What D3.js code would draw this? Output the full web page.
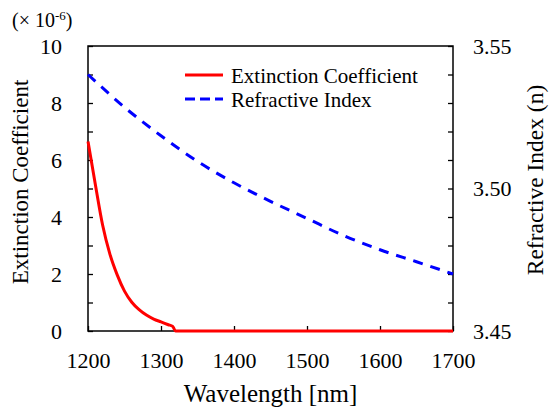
<!DOCTYPE html>
<html>
<head>
<meta charset="utf-8">
<script src="https://cdn.jsdelivr.net/npm/d3@7"></script>
<style>
  body { margin: 0; background: #fff; }
</style>
</head>
<body>
<div id="chart"></div>
<script>
// extinction coefficient (x 1e-6)
const kWave = [1200, 1210, 1220, 1230, 1240, 1250, 1260, 1270, 1280, 1290, 1300, 1310, 1316, 1320, 1700];
const kVals = [6.65, 5.15, 3.72, 2.70, 1.97, 1.40, 1.01, 0.75, 0.56, 0.42, 0.32, 0.22, 0.16, 0, 0];

// refractive index
const nWave = [1200, 1250, 1300, 1350, 1400, 1450, 1500, 1550, 1600, 1650, 1700];
const nVals = [3.540, 3.5285, 3.5185, 3.5095, 3.502, 3.4955, 3.4895, 3.4835, 3.4785, 3.4743, 3.470];

const xTicks = [1200, 1300, 1400, 1500, 1600, 1700];
const kTicks = d3.range(0, 11, 1);
const nTicks = d3.range(3.45, 3.5501, 0.01);

const seriesNames = ["Extinction Coefficient", "Refractive Index"];

const serif = "'Liberation Serif', 'DejaVu Serif', serif";

let margin = { top: 46, right: 99, bottom: 79, left: 88 };
let width = 552 - margin.left - margin.right,
    height = 410 - margin.top - margin.bottom;

let svg = d3.select("#chart").append("svg")
    .attr("width", 552)
    .attr("height", 410)
    .attr("font-family", serif);

let g = svg.append("g")
    .attr("transform", "translate(" + margin.left + "," + margin.top + ")");

// scales
let x = d3.scaleLinear().domain([1200, 1700]).range([0, width]);
let yK = d3.scaleLinear().domain([0, 10]).range([height, 0]);
let yN = d3.scaleLinear().domain([3.45, 3.55]).range([height, 0]);

// axes, ticks pointing inward
let xAxis = g.append("g")
    .attr("transform", "translate(0," + height + ")")
    .call(d3.axisBottom(x).tickValues(xTicks).tickSizeInner(-5).tickSizeOuter(0).tickPadding(21).tickFormat(d3.format("d")));

let yAxisL = g.append("g")
    .call(d3.axisLeft(yK).tickValues(kTicks).tickSizeInner(-5).tickSizeOuter(0).tickPadding(26)
        .tickFormat(d => d % 2 === 0 ? d : ""));

let yAxisR = g.append("g")
    .attr("transform", "translate(" + width + ",0)")
    .call(d3.axisRight(yN).tickValues(nTicks).tickSizeInner(-5).tickSizeOuter(0).tickPadding(20)
        .tickFormat((d, i) => i % 5 === 0 ? d3.format(".2f")(d) : ""));

[xAxis, yAxisL, yAxisR].forEach(a => {
    a.attr("font-family", serif).attr("font-size", 22);
    a.selectAll("text").attr("fill", "#000");
    a.selectAll("line").attr("stroke", "#000").attr("stroke-width", 1.3);
    a.select(".domain").remove();
});

// frame
g.append("rect")
    .attr("width", width)
    .attr("height", height)
    .attr("fill", "none")
    .attr("stroke", "#000")
    .attr("stroke-width", 1.5);

// lines
let kLine = d3.line()
    .curve(d3.curveMonotoneX)
    .x((d, i) => x(kWave[i]))
    .y(d => yK(d));

let nLine = d3.line()
    .curve(d3.curveMonotoneX)
    .x((d, i) => x(nWave[i]))
    .y(d => yN(d));

g.append("path")
    .datum(nVals)
    .attr("d", nLine)
    .attr("fill", "none")
    .attr("stroke", "#0000ff")
    .attr("stroke-width", 3)
    .attr("stroke-dasharray", "10,8");

g.append("path")
    .datum(kVals)
    .attr("d", kLine)
    .attr("fill", "none")
    .attr("stroke", "#ff0000")
    .attr("stroke-width", 3);

// legend
let legend = svg.append("g");
let legendColors = ["#ff0000", "#0000ff"];
let legendDash = [null, "10,5"];
seriesNames.forEach((name, i) => {
    let yy = 75 + i * 24;
    legend.append("line")
        .attr("x1", 185).attr("x2", 223)
        .attr("y1", yy).attr("y2", yy)
        .attr("stroke", legendColors[i])
        .attr("stroke-width", 3)
        .attr("stroke-dasharray", legendDash[i]);
    legend.append("text")
        .attr("x", 231)
        .attr("y", yy + 8)
        .attr("font-size", 21)
        .text(name);
});

// axis titles
svg.append("text")
    .attr("x", margin.left + width / 2)
    .attr("y", 402)
    .attr("text-anchor", "middle")
    .attr("font-size", 25)
    .text("Wavelength [nm]");

svg.append("text")
    .attr("transform", "translate(28,182) rotate(-90)")
    .attr("text-anchor", "middle")
    .attr("font-size", 23)
    .text("Extinction Coefficient");

svg.append("text")
    .attr("transform", "translate(543,180) rotate(-90)")
    .attr("text-anchor", "middle")
    .attr("font-size", 23.5)
    .text("Refractive Index (n)");

// multiplier
let mult = svg.append("text")
    .attr("x", 12)
    .attr("y", 27)
    .attr("font-size", 20);
mult.append("tspan").text("(× 10");
mult.append("tspan").attr("dy", -7).attr("font-size", 13).text("-6");
mult.append("tspan").attr("dy", 7).text(")");
</script>
</body>
</html>
